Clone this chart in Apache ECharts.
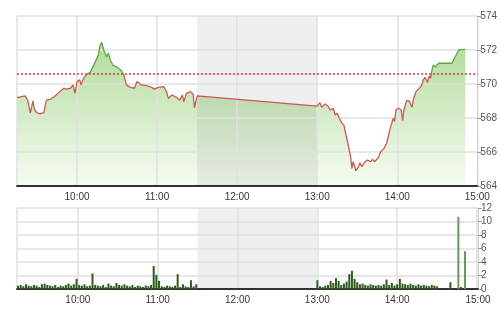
<!DOCTYPE html>
<html>
<head>
<meta charset="utf-8">
<script src="https://cdn.jsdelivr.net/npm/echarts@6/dist/echarts.min.js"></script>
<style>html,body{margin:0;padding:0;background:#fff}#c{width:500px;height:312px}</style>
</head>
<body>
<div id="c"></div>
<script>
const priceTimes = ['09:15','09:21','09:23','09:25','09:27','09:28','09:30','09:32','09:35','09:36','09:37','09:40','09:43','09:47','09:50','09:52','09:55','09:57','09:58:30','10:00','10:02','10:03','10:05','10:07','10:10','10:13','10:16','10:17','10:18:30','10:20','10:22','10:23:30','10:25','10:27','10:30','10:33','10:35','10:37','10:40','10:43','10:45','10:48','10:52','10:56','10:58','11:01','11:05','11:07','11:08:30','11:11','11:14','11:17','11:19','11:20','11:22','11:25','11:27','11:28','11:30',
'13:00','13:02','13:03:30','13:06','13:08','13:10','13:12','13:13:30','13:15','13:17','13:18:30','13:20','13:21','13:23','13:25','13:26','13:27','13:29','13:31','13:32','13:33:30','13:36','13:37:30','13:40','13:41:30','13:43','13:46','13:47:30','13:50','13:52','13:53:30','13:55','13:57','13:58','13:59','14:01','14:03','14:04','14:05','14:07','14:09','14:11','14:12','14:14','14:16','14:18','14:19:30','14:21','14:22:30','14:24','14:25','14:26','14:27','14:28:30','14:31','14:41','14:46','14:51'];
const priceVals = [569.2,569.3,569.05,568.3,569.0,568.5,568.3,568.25,568.3,568.65,569.05,569.1,569.25,569.55,569.75,569.7,569.75,569.95,569.45,570.15,570.25,569.95,570.35,570.55,570.7,571.2,571.7,572.2,572.45,572.0,571.6,571.8,571.4,571.1,571.0,570.8,570.55,569.95,569.8,569.75,570.15,569.95,569.9,569.8,569.7,569.8,569.85,569.55,569.15,569.35,569.25,569.05,569.35,568.95,569.45,569.55,569.4,568.6,569.3,
568.7,568.9,568.63,568.82,568.7,568.47,568.57,568.18,568.28,567.92,567.69,567.59,567.2,566.5,565.73,565.04,565.43,564.9,565.14,565.37,565.14,565.43,565.53,565.43,565.57,565.43,565.69,566.0,566.2,566.5,567.0,567.49,567.98,567.8,568.47,568.57,568.47,567.84,568.47,569.02,569.0,568.63,569.06,569.55,569.7,569.88,570.24,570.4,570.08,570.47,570.35,570.82,571.12,571.0,571.22,571.22,572.0,572.04];
const refPrice = 570.6;

const volTimes = ['09:15','09:17','09:19','09:21','09:23','09:25','09:27','09:29','09:31','09:33','09:35','09:37','09:39','09:41','09:43','09:45','09:47','09:49','09:51','09:53','09:55','09:57','09:59','10:01','10:03','10:05','10:07','10:09','10:11','10:13','10:15','10:17','10:19','10:21','10:23','10:25','10:27','10:29','10:31','10:33','10:35','10:37','10:39','10:41','10:43','10:45','10:47','10:49','10:51','10:53','10:55','10:57','10:59','11:01','11:03','11:05','11:07','11:09','11:11','11:13','11:15','11:17','11:19','11:21','11:23','11:25','11:27','11:29',
'13:00','13:02','13:04','13:06','13:08','13:10','13:12','13:14','13:16','13:18','13:20','13:22','13:24','13:26','13:28','13:30','13:32','13:34','13:36','13:38','13:40','13:42','13:44','13:46','13:48','13:50','13:52','13:54','13:56','13:58','14:00','14:02','14:04','14:06','14:08','14:10','14:12','14:14','14:16','14:18','14:20','14:22','14:24','14:26','14:28','14:30','14:40','14:46','14:48','14:51'];
const volVals = [0.5,0.6,0.4,0.7,0.5,0.4,0.6,0.5,0.3,0.7,0.8,0.6,0.5,0.4,0.6,0.3,0.5,0.4,0.6,0.8,0.5,0.7,1.5,0.6,0.5,0.7,0.4,0.5,2.3,0.6,0.5,0.4,0.6,0.3,0.8,0.5,0.4,0.9,0.6,0.5,0.7,0.5,0.4,0.6,0.3,0.5,0.4,0.3,0.5,0.4,0.6,3.4,2.1,1.2,0.4,0.3,0.5,0.4,0.3,0.5,2.2,0.3,0.7,0.4,0.3,1.3,0.4,0.7,
1.3,0.4,0.3,0.5,0.6,1.2,0.9,1.6,1.2,0.6,0.8,1.1,2.2,2.7,1.5,1.0,0.7,0.8,0.6,0.5,0.7,0.6,0.5,0.6,0.5,0.7,1.4,0.6,0.9,0.5,0.7,1.5,0.8,0.7,0.6,0.8,0.6,0.5,0.7,0.5,0.6,0.5,0.4,0.6,0.5,0.4,1.0,10.7,0.3,5.6];

const priceTicks = [564,566,568,570,572,574];
const volTicks = [0,2,4,6,8,10,12];
const lunchBreak = ['11:30','13:00'];

function ts(s){const p=s.split(':').map(Number);return Date.UTC(2024,0,2,p[0],p[1],p[2]||0);}
function fmt(v){const d=new Date(v);if(d.getUTCMinutes()!==0)return '';const h=d.getUTCHours();return (h<10?'0':'')+h+':00';}

const xMin = ts('09:15'), xMax = ts('15:00');
const FONT = 'Liberation Sans';
const GRID = '#e0e0e0';

function xAx(gi){
  return {type:'time', gridIndex:gi, z:20, min:xMin, max:xMax, minInterval:3600000, maxInterval:3600000,
    axisLine:{show:true,lineStyle:{color:'#333',width:2}}, axisTick:{show:false},
    splitLine:{show:true,lineStyle:{color:GRID,width:1.5}},
    axisLabel:{formatter:fmt,color:'#333',fontSize:10,fontFamily:FONT,margin:6,showMinLabel:false,showMaxLabel:true,hideOverlap:false}};
}
function yAx(gi,ticks){
  return {type:'value', gridIndex:gi, z:20, position:'right', min:ticks[0], max:ticks[ticks.length-1], interval:ticks[1]-ticks[0],
    axisLine:{show:true,lineStyle:{color:'#d8d8d8'}}, axisTick:{show:true,length:4,lineStyle:{color:'#999'}},
    axisLabel:{color:'#555',fontSize:10,fontFamily:FONT,margin:3},
    splitLine:{show:true,lineStyle:{color:GRID,width:1.5}}};
}
function shade(gi,ticks){
  return {type:'custom',xAxisIndex:gi,yAxisIndex:gi,z:15,silent:true,
    data:[[ts(lunchBreak[0]),ts(lunchBreak[1])]],
    renderItem:(params,api)=>{
      const p0 = api.coord([api.value(0), ticks[ticks.length-1]]);
      const p1 = api.coord([api.value(1), ticks[0]]);
      return {type:'rect',shape:{x:p0[0],y:p0[1],width:p1[0]-p0[0],height:p1[1]-p0[1]},style:{fill:'rgba(0,0,0,0.062)'}};
    }};
}

const priceData = priceTimes.map((t,i)=>[ts(t),priceVals[i]]);
const chart = echarts.init(document.getElementById('c'), null, {renderer:'canvas'});
chart.setOption({
  useUTC:true,
  animation:false,
  backgroundColor:'#fff',
  grid:[{left:17,right:22,top:16,height:170},{left:17,right:22,top:208,height:81}],
  xAxis:[xAx(0),xAx(1)],
  yAxis:[yAx(0,priceTicks),yAx(1,volTicks)],
  series:[
    shade(0,priceTicks),
    {type:'line',xAxisIndex:0,yAxisIndex:0,z:10,showSymbol:false,symbol:'none',silent:true,
      data:priceData,lineStyle:{width:0,opacity:0},
      areaStyle:{origin:'start',opacity:0.85,color:new echarts.graphic.LinearGradient(0,0,0,1,[{offset:0,color:'#a3d687'},{offset:1,color:'#f6fbf3'}])}},
    {type:'line',id:'price',xAxisIndex:0,yAxisIndex:0,z:30,showSymbol:false,symbol:'none',
      data:priceData,lineStyle:{width:1.3,color:'#c85a55'},
      markLine:{silent:true,symbol:'none',label:{show:false},z:30,
        lineStyle:{color:'#e03535',type:[2,2],width:1.5},data:[{yAxis:refPrice}]}},
    shade(1,volTicks),
    {type:'bar',xAxisIndex:1,yAxisIndex:1,barWidth:2,z:30,
      data:volTimes.map((t,i)=>[ts(t),volVals[i]]),
      itemStyle:{color:p=>p.value[1]>5?'#6a9a5a':'#2e5c1f'}}
  ]
});
// colour the price line green above the reference level, red below (split at the axis position of refPrice)
const yRef = chart.convertToPixel({yAxisIndex:0}, refPrice);
const f = yRef/312;
chart.setOption({series:[{id:'price',lineStyle:{color:new echarts.graphic.LinearGradient(0,0,0,312,[
  {offset:0,color:'#5ea544'},{offset:f,color:'#5ea544'},{offset:f,color:'#c85a55'},{offset:1,color:'#c85a55'}],true)}}]});
</script>
</body>
</html>
